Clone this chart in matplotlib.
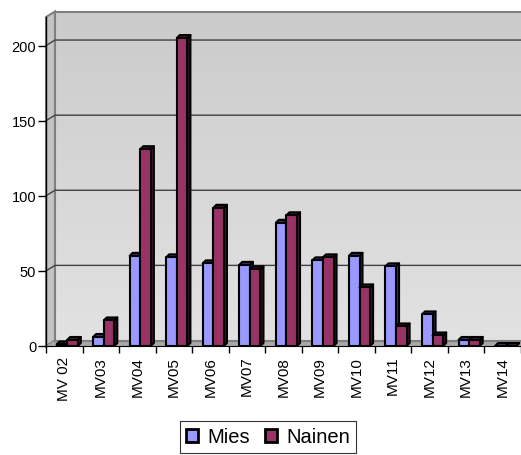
import numpy as np
import matplotlib
matplotlib.use("Agg")
from matplotlib import pyplot as plt
from matplotlib.patches import Polygon, Patch

plt.rcParams["font.family"] = ["Liberation Sans", "DejaVu Sans"]

categories = ["MV 02", "MV03", "MV04", "MV05", "MV06", "MV07", "MV08",
              "MV09", "MV10", "MV11", "MV12", "MV13", "MV14"]
mies = [1, 6, 60, 59, 55, 54, 82, 57, 60, 53, 21, 4, 0]
nainen = [4, 17, 131, 205, 92, 51, 87, 59, 39, 13, 7, 4, 0]
yticks = [0, 50, 100, 150, 200]

W, H = 521, 456
fig = plt.figure(figsize=(W / 100, H / 100), dpi=100)
x0, x1, ybot, ytop = 46, 521, 347, 18
ax = fig.add_axes([x0 / W, (H - ybot) / H, (x1 - x0) / W, (ybot - ytop) / H])

n = len(categories)
ymax = 219
ax.set_xlim(-0.5, n - 0.5)
ax.set_ylim(0, ymax)

# pixel -> data scale
px_x = n / (x1 - x0)
px_y = ymax / (ybot - ytop)
wdx, wdy = 9 * px_x, 5.5 * px_y   # wall depth
bdx, bdy = 3 * px_x, 3 * px_y     # bar depth

# side wall
ax.add_patch(Polygon([(-0.5, 0), (-0.5 + wdx, wdy), (-0.5 + wdx, ymax + wdy), (-0.5, ymax)],
                     closed=True, fc="#c4c4c4", ec="#808080", lw=1.5, clip_on=False, zorder=0))
# back wall gradient
grad = np.linspace(0, 1, 256).reshape(-1, 1)
ax.imshow(grad, cmap=matplotlib.colors.LinearSegmentedColormap.from_list("w", ["#e2e2e2", "#cbcbcb"]),
          extent=(-0.5 + wdx, n - 0.5 + wdx, wdy, ymax + wdy), origin="lower",
          aspect="auto", clip_on=False, zorder=0)
ax.plot([-0.5 + wdx, -0.5 + wdx, n + 1], [wdy, ymax + wdy, ymax + wdy],
        color="#808080", lw=1.5, clip_on=False, zorder=1)
# floor
ax.add_patch(Polygon([(-0.5, 0), (-0.5 + wdx, wdy), (n + 1, wdy), (n + 1, 0)],
                     closed=True, fc="#a8a8a8", ec="none", clip_on=False, zorder=1))
ax.plot([-0.5 + wdx, n + 1], [wdy, wdy], color="#808080", lw=1.5, clip_on=False, zorder=1)

# gridlines on wall
for t in yticks[1:]:
    ax.plot([-0.5, -0.5 + wdx, n + 1], [t, t + wdy, t + wdy],
            color="#404040", lw=1, clip_on=False, zorder=1)


def bar3d(xl, w, h, face, side):
    xr = xl + w
    ax.add_patch(Polygon([(xr, 0), (xr + bdx, bdy), (xr + bdx, h + bdy), (xr, h)],
                         closed=True, fc=side, ec="black", lw=1.5, zorder=3, joinstyle="round"))
    ax.add_patch(Polygon([(xl, h), (xl + bdx, h + bdy), (xr + bdx, h + bdy), (xr, h)],
                         closed=True, fc=side, ec="black", lw=1.5, zorder=3, joinstyle="round"))
    ax.add_patch(Polygon([(xl, 0), (xl, h), (xr, h), (xr, 0)],
                         closed=True, fc=face, ec="black", lw=1.5, zorder=3, joinstyle="round"))


bw = 0.29
for i in range(n):
    bar3d(i - 0.21, bw, mies[i], "#9999ff", "#3a3a70")
    bar3d(i + 0.08, bw, nainen[i], "#993366", "#4a1830")

ax.set_yticks(yticks)
ax.set_xticks(range(n))
ax.set_xticklabels(categories, rotation=90, fontsize=11)
ax.set_xticks(np.arange(n + 1) - 0.5, minor=True)
ax.tick_params(axis="y", direction="out", length=6, width=1, colors="black", labelsize=10.5, pad=1)
ax.tick_params(axis="x", which="major", length=0, pad=7)
ax.tick_params(axis="x", which="minor", direction="out", length=5, width=1)
for s in ["top", "right"]:
    ax.spines[s].set_visible(False)
ax.spines["left"].set_color("black")
ax.spines["left"].set_linewidth(1)
ax.spines["bottom"].set_color("black")
ax.spines["bottom"].set_zorder(4)

handles = [Patch(fc="#9999ff", ec="black", lw=2, label="Mies"),
           Patch(fc="#993366", ec="black", lw=2, label="Nainen")]
leg = fig.legend(handles=handles, loc="center", bbox_to_anchor=(268 / W, 1 - 438 / H),
                 ncol=2, fontsize=14.5, frameon=True, fancybox=False, handlelength=0.6,
                 handleheight=0.6, handletextpad=0.45, columnspacing=0.75,
                 borderpad=0.3, borderaxespad=0)
leg.get_frame().set_edgecolor("black")
leg.get_frame().set_linewidth(0.8)

fig.savefig("out.png", dpi=100)
